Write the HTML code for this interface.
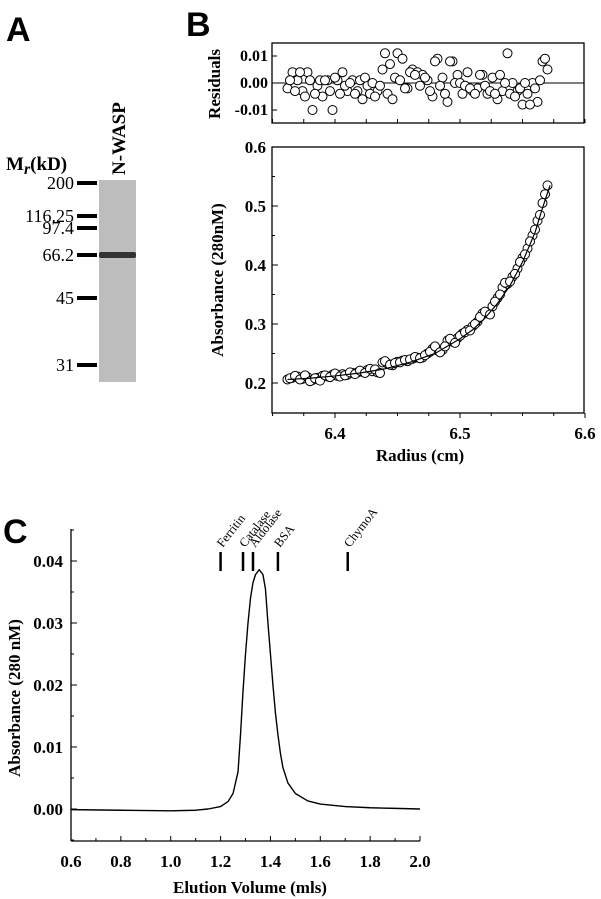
<!DOCTYPE html>
<html><head><meta charset="utf-8">
<style>
html,body{margin:0;padding:0;background:#fff;}
body{width:601px;height:899px;overflow:hidden;}
svg{display:block;}
.serif{font-family:"Liberation Serif",serif;}
.sans{font-family:"Liberation Sans",sans-serif;}
</style></head><body>
<svg id="fig" width="601" height="899" viewBox="0 0 601 899" xmlns="http://www.w3.org/2000/svg">
  <text x="6" y="41" class="sans" font-size="34" font-weight="bold">A</text>
  <text x="186" y="36" class="sans" font-size="34" font-weight="bold">B</text>
  <text x="3" y="543" class="sans" font-size="34" font-weight="bold">C</text>
  <g id="gel"></g>
  <g id="resid"></g>
  <g id="absb"></g>
  <g id="elu"></g>
</svg>
<script>
// ---------- Panel A data ----------
const markerLabels = ["200","116.25","97.4","66.2","45","31"];
const markerY = [183, 216, 228, 255, 298, 365];
// ---------- Panel B data ----------
const radius = [6.362,6.366,6.370,6.374,6.378,6.382,6.386,6.390,6.394,6.398,6.402,6.406,6.410,6.414,6.418,6.422,6.426,6.430,6.434,6.438,6.442,6.446,6.450,6.454,6.458,6.462,6.466,6.470,6.474,6.478,6.482,6.486,6.490,6.494,6.498,6.502,6.506,6.510,6.514,6.518,6.522,6.526,6.530,6.534,6.538,6.542,6.546,6.550,6.554,6.558,6.562,6.566,6.570];
const absorb = [0.206,0.209,0.211,0.207,0.210,0.205,0.209,0.212,0.211,0.214,0.212,0.215,0.214,0.217,0.218,0.219,0.222,0.220,0.218,0.235,0.233,0.230,0.236,0.238,0.237,0.241,0.243,0.243,0.250,0.258,0.255,0.256,0.272,0.270,0.276,0.284,0.290,0.296,0.304,0.318,0.320,0.330,0.344,0.362,0.368,0.380,0.394,0.412,0.428,0.450,0.475,0.505,0.535];
const radius2 = [6.364,6.368,6.372,6.376,6.380,6.384,6.388,6.392,6.396,6.400,6.404,6.408,6.412,6.416,6.420,6.424,6.428,6.432,6.436,6.440,6.444,6.448,6.452,6.456,6.460,6.464,6.468,6.472,6.476,6.480,6.484,6.488,6.492,6.496,6.500,6.504,6.508,6.512,6.516,6.520,6.524,6.528,6.532,6.536,6.540,6.544,6.548,6.552,6.556,6.560,6.564,6.568];
const absorb2 = [0.208,0.212,0.206,0.213,0.203,0.208,0.204,0.213,0.210,0.216,0.211,0.213,0.218,0.215,0.221,0.217,0.224,0.223,0.217,0.237,0.231,0.234,0.235,0.239,0.240,0.244,0.242,0.247,0.253,0.262,0.252,0.262,0.275,0.268,0.280,0.286,0.289,0.300,0.312,0.321,0.316,0.338,0.350,0.370,0.372,0.385,0.405,0.418,0.440,0.460,0.485,0.520];
const residuals = [-0.002,0.004,0.001,-0.003,0.004,-0.010,-0.001,-0.005,0.001,-0.010,0.001,0.004,-0.003,0.001,-0.003,-0.006,-0.001,0.000,-0.003,0.005,-0.004,-0.006,0.011,0.009,-0.002,0.005,0.004,0.003,0.001,-0.005,0.009,0.002,-0.007,0.008,0.003,-0.004,0.004,-0.003,-0.002,0.003,-0.004,0.002,-0.006,-0.003,0.011,0.000,-0.003,-0.008,-0.004,0.000,-0.007,0.008,0.005];
const residuals2 = [0.001,-0.003,0.004,-0.005,0.001,-0.004,0.001,0.001,-0.003,0.002,-0.004,-0.001,0.000,-0.004,0.001,0.002,-0.004,-0.005,-0.001,0.011,0.007,0.002,0.001,-0.002,0.004,0.003,-0.001,0.002,-0.003,0.008,-0.001,-0.004,0.008,0.000,0.000,-0.001,-0.002,-0.004,0.003,-0.001,-0.003,-0.004,0.003,0.000,-0.004,-0.005,-0.002,0.000,-0.008,-0.002,0.001,0.009];
const fitR = [6.362,6.38,6.40,6.42,6.44,6.46,6.48,6.50,6.51,6.52,6.53,6.54,6.55,6.56,6.565,6.572];
const fitA = [0.206,0.208,0.212,0.217,0.224,0.235,0.250,0.275,0.290,0.310,0.335,0.365,0.405,0.455,0.49,0.535];
const residTicks = ["0.01","0.00","-0.01"];
const absTicks = ["0.2","0.3","0.4","0.5","0.6"];
const radTicks = ["6.4","6.5","6.6"];
// ---------- Panel C data ----------
const eluV = [0.6,0.8,1.0,1.1,1.15,1.2,1.23,1.25,1.27,1.28,1.29,1.30,1.31,1.32,1.33,1.34,1.355,1.37,1.38,1.39,1.40,1.41,1.42,1.43,1.44,1.45,1.47,1.50,1.55,1.6,1.7,1.8,1.9,2.0];
const eluA = [-0.0001,-0.0002,-0.0003,-0.0002,0.0,0.0004,0.0012,0.0025,0.006,0.012,0.019,0.025,0.030,0.034,0.0365,0.0378,0.0386,0.0378,0.0355,0.030,0.025,0.020,0.0155,0.012,0.0090,0.0067,0.0042,0.0025,0.0013,0.0008,0.0004,0.0002,0.0001,0.0];
const stdNames = ["Ferritin","Catalase","Aldolase","BSA","ChymoA"];
const stdVol = [1.20,1.29,1.33,1.43,1.71];
const eluXTicks = ["0.6","0.8","1.0","1.2","1.4","1.6","1.8","2.0"];
const eluYTicks = ["0.00","0.01","0.02","0.03","0.04"];

const NS="http://www.w3.org/2000/svg";
function mk(tag, attrs, parent){const e=document.createElementNS(NS,tag);for(const k in attrs)e.setAttribute(k,attrs[k]);parent.appendChild(e);return e;}

// ---- Panel A ----
(function(){
  const g=document.getElementById('gel');
  const lane=mk('rect',{x:99,y:180,width:37,height:202,fill:'#bdbdbd'},g);
  
  
  const band=mk('rect',{x:99,y:252,width:37,height:6,fill:'#333',rx:2},g);
  
  
  markerLabels.forEach((l,i)=>{
    const r=mk('rect',{x:77,y:markerY[i]-2,width:20,height:4,fill:'#000'},g);
    
    
    const t=mk('text',{x:74,y:markerY[i]+6,'text-anchor':'end','font-size':18,class:'serif'},g);
    t.textContent=l;
    
    
  });
  const mr=mk('text',{x:6,y:170,'font-size':19,'font-weight':'bold',class:'serif'},g);
  mr.innerHTML='M<tspan font-style="italic" dy="4" font-size="16">r</tspan><tspan dy="-4">(kD)</tspan>';
  
  
  const nw=mk('text',{x:0,y:0,'font-size':19,'font-weight':'bold',class:'serif',transform:'translate(125,175) rotate(-90)'},g);
  nw.textContent='N-WASP';
  
  
})();

// ---- Panel B ----
const bx=v=>335+(v-6.4)*1250;
const ryS=v=>83-v*2700;
const ayS=v=>383-(v-0.2)*590;
(function(){
  const g=document.getElementById('resid');
  mk('rect',{x:272,y:43,width:312,height:80,fill:'none',stroke:'#000','stroke-width':1.3},g);
  mk('line',{x1:272,x2:584,y1:ryS(0),y2:ryS(0),stroke:'#000','stroke-width':1},g);
  [0.01,0,-0.01].forEach((v,i)=>{
    mk('line',{x1:272,x2:277,y1:ryS(v),y2:ryS(v),stroke:'#000'},g);
    const t=mk('text',{x:268,y:ryS(v)+5,'text-anchor':'end','font-size':16,'font-weight':'bold',class:'serif'},g);
    t.textContent=residTicks[i];
    
    
  });
  [6.35,6.375,6.4,6.425,6.45,6.475,6.5,6.525,6.55,6.575,6.6].forEach(v=>mk('line',{x1:bx(v),x2:bx(v),y1:123,y2:119,stroke:'#000'},g));
  const yt=mk('text',{x:0,y:0,'text-anchor':'middle','font-size':17,'font-weight':'bold',class:'serif',transform:'translate(220,84) rotate(-90)'},g);
  yt.textContent='Residuals';
  
  
  [[radius,residuals],[radius2,residuals2]].forEach(([rs,vs])=>vs.forEach((v,i)=>{
    const c=mk('circle',{cx:bx(rs[i]),cy:ryS(v),r:4.5,fill:'#fff',stroke:'#000','stroke-width':1},g);
    
    
  }));
})();
(function(){
  const g=document.getElementById('absb');
  mk('rect',{x:272,y:147,width:312,height:266,fill:'none',stroke:'#000','stroke-width':1.3},g);
  [0.2,0.3,0.4,0.5,0.6].forEach((v,i)=>{
    mk('line',{x1:272,x2:278,y1:ayS(v),y2:ayS(v),stroke:'#000'},g);
    const t=mk('text',{x:266,y:ayS(v)+6,'text-anchor':'end','font-size':17,'font-weight':'bold',class:'serif'},g);
    t.textContent=absTicks[i];
    
    
  });
  [0.25,0.35,0.45,0.55].forEach(v=>mk('line',{x1:272,x2:275,y1:ayS(v),y2:ayS(v),stroke:'#000'},g));
  [6.4,6.5,6.6].forEach((v,i)=>{
    mk('line',{x1:bx(v),x2:bx(v),y1:413,y2:418,stroke:'#000'},g);
    const t=mk('text',{x:bx(v),y:439,'text-anchor':'middle','font-size':17,'font-weight':'bold',class:'serif'},g);
    t.textContent=radTicks[i];
    
    
  });
  [6.35,6.375,6.425,6.45,6.475,6.525,6.55,6.575].forEach(v=>mk('line',{x1:bx(v),x2:bx(v),y1:413,y2:416,stroke:'#000'},g));
  const xt=mk('text',{x:420,y:461,'text-anchor':'middle','font-size':17,'font-weight':'bold',class:'serif'},g);
  xt.textContent='Radius (cm)';
  
  
  const yt=mk('text',{x:0,y:0,'text-anchor':'middle','font-size':17,'font-weight':'bold',class:'serif',transform:'translate(223,280) rotate(-90)'},g);
  yt.textContent='Absorbance (280nM)';
  
  
  [[radius,absorb],[radius2,absorb2]].forEach(([rs,vs])=>vs.forEach((v,i)=>{
    const c=mk('circle',{cx:bx(rs[i]),cy:ayS(v),r:4.5,fill:'#fff',stroke:'#000','stroke-width':1},g);
    
    
  }));
  const p=mk('polyline',{points:fitR.map((r,i)=>bx(r)+','+ayS(fitA[i])).join(' '),fill:'none',stroke:'#000','stroke-width':1.2},g);
  
  
})();

// ---- Panel C ----
const cx=v=>71+(v-0.6)*249.3;
const cy=v=>809-v*6200;
(function(){
  const g=document.getElementById('elu');
  mk('line',{x1:71,x2:71,y1:529,y2:841,stroke:'#000','stroke-width':1.3},g);
  mk('line',{x1:71,x2:420,y1:841,y2:841,stroke:'#000','stroke-width':1.3},g);
  [0,0.01,0.02,0.03,0.04].forEach((v,i)=>{
    mk('line',{x1:71,x2:77,y1:cy(v),y2:cy(v),stroke:'#000'},g);
    const t=mk('text',{x:63,y:cy(v)+6,'text-anchor':'end','font-size':17,'font-weight':'bold',class:'serif'},g);
    t.textContent=eluYTicks[i];
    
    
  });
  [-0.005,0.005,0.015,0.025,0.035,0.045].forEach(v=>mk('line',{x1:71,x2:74,y1:cy(v),y2:cy(v),stroke:'#000'},g));
  [0.6,0.8,1.0,1.2,1.4,1.6,1.8,2.0].forEach((v,i)=>{
    mk('line',{x1:cx(v),x2:cx(v),y1:841,y2:836,stroke:'#000'},g);
    const t=mk('text',{x:cx(v),y:867,'text-anchor':'middle','font-size':17,'font-weight':'bold',class:'serif'},g);
    t.textContent=eluXTicks[i];
    
    
  });
  [0.7,0.9,1.1,1.3,1.5,1.7,1.9].forEach(v=>mk('line',{x1:cx(v),x2:cx(v),y1:841,y2:838,stroke:'#000'},g));
  const xt=mk('text',{x:250,y:893,'text-anchor':'middle','font-size':17,'font-weight':'bold',class:'serif'},g);
  xt.textContent='Elution Volume (mls)';
  
  
  const yt=mk('text',{x:0,y:0,'text-anchor':'middle','font-size':17,'font-weight':'bold',class:'serif',transform:'translate(20,698) rotate(-90)'},g);
  yt.textContent='Absorbance (280 nM)';
  
  
  const p=mk('polyline',{points:eluV.map((v,i)=>cx(v)+','+cy(eluA[i])).join(' '),fill:'none',stroke:'#000','stroke-width':1.4,'stroke-linejoin':'round'},g);
  
  
  stdNames.forEach((n,i)=>{
    const x=cx(stdVol[i]);
    const b=mk('line',{x1:x,x2:x,y1:552,y2:571,stroke:'#000','stroke-width':2.5},g);
    
    
    const t=mk('text',{x:0,y:0,'font-size':12.5,class:'serif',transform:'translate('+(x+2)+',548) rotate(-52)'},g);
    t.textContent=n;
    
    
  });
})();
</script>
</body></html>
